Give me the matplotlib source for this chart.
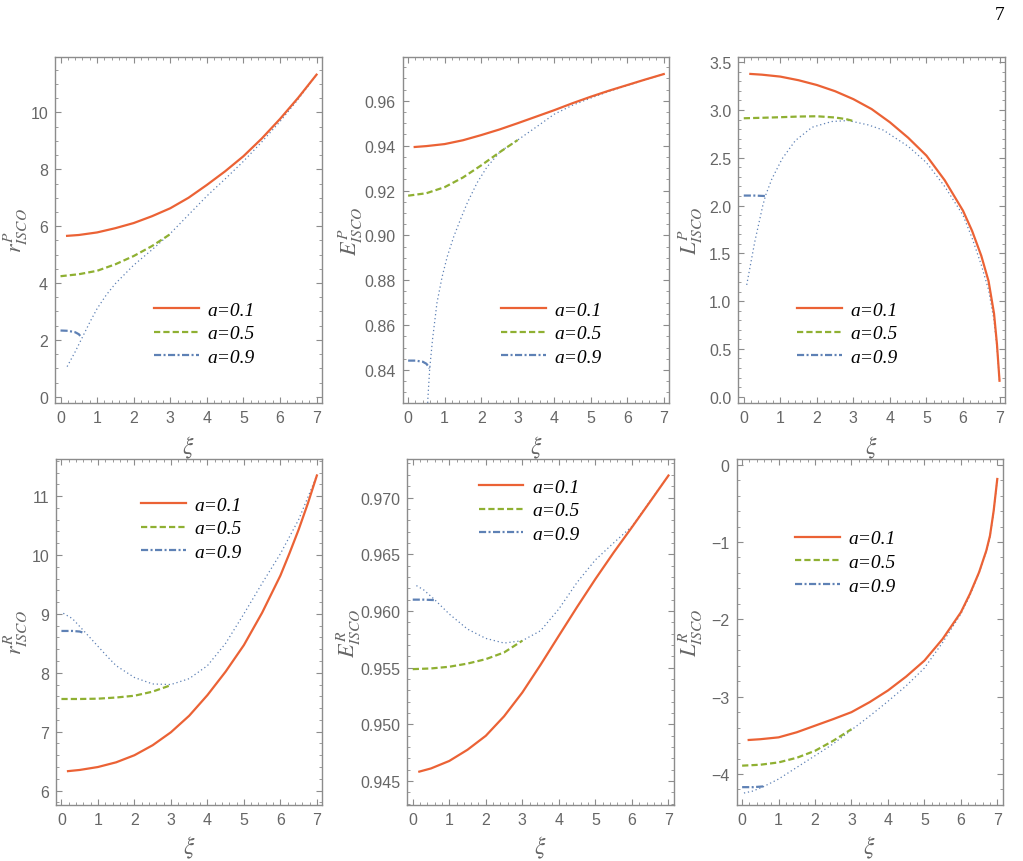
import matplotlib
matplotlib.use('Agg')
import matplotlib.pyplot as plt
from matplotlib.ticker import MultipleLocator, FormatStrFormatter

plt.rcParams['mathtext.fontset'] = 'stix'

# ---- data: xi values and curves for a=0.1, 0.5, 0.9 (+ thin dotted envelope)
# r^P_ISCO
rP_x1 = [0.18, 0.5, 1, 1.5, 2, 2.5, 3, 3.5, 4, 4.5, 5, 5.5, 6, 6.5, 7]
rP_y1 = [5.66, 5.69, 5.78, 5.93, 6.11, 6.35, 6.63, 7.00, 7.45, 7.93, 8.46, 9.08, 9.77, 10.52, 11.33]
rP_x5 = [0, 0.5, 1, 1.5, 2, 2.5, 3]
rP_y5 = [4.24, 4.31, 4.43, 4.66, 4.95, 5.30, 5.72]
rP_x9 = [0, 0.2, 0.4, 0.5, 0.58]
rP_y9 = [2.33, 2.32, 2.27, 2.20, 2.08]
rP_xd = [0.18, 0.4, 0.6, 0.8, 1, 1.25, 1.5, 2, 2.5, 3, 3.5, 4, 4.5, 5, 5.5, 6, 6.5, 7]
rP_yd = [1.06, 1.58, 2.10, 2.62, 3.10, 3.58, 3.98, 4.63, 5.17, 5.74, 6.40, 7.06, 7.66, 8.28, 8.96,
         9.68, 10.47, 11.33]

# E^P_ISCO
EP_x1 = [0.18, 0.5, 1, 1.5, 2, 2.5, 3, 3.5, 4, 4.5, 5, 5.5, 6, 6.5, 7]
EP_y1 = [0.9394, 0.9398, 0.9407, 0.9424, 0.9447, 0.9472, 0.9500, 0.9529, 0.9558, 0.9589,
         0.9618, 0.9645, 0.9670, 0.9695, 0.9719]
EP_x5 = [0, 0.5, 1, 1.5, 2, 2.5, 3]
EP_y5 = [0.9177, 0.9188, 0.9215, 0.9258, 0.9312, 0.9370, 0.9425]
EP_x9 = [0, 0.2, 0.4, 0.5, 0.59]
EP_y9 = [0.8442, 0.8442, 0.8437, 0.8428, 0.8408]
EP_xd = [0.52, 0.54, 0.59, 0.67, 0.79, 0.93, 1.07, 1.25, 1.43, 1.62, 1.89, 2.16, 2.53, 3.0,
         3.5, 4, 4.5, 5, 5.5, 6, 6.5, 7]
EP_yd = [0.820, 0.8271, 0.8405, 0.8539, 0.8700, 0.8815, 0.8905, 0.8995, 0.9070, 0.9145, 0.9235,
         0.9305, 0.9375, 0.9425, 0.9482, 0.9540, 0.9580, 0.9612, 0.9642, 0.9668, 0.9694, 0.9719]

# L^P_ISCO
LP_x1 = [0.18, 0.5, 1, 1.5, 2, 2.5, 3, 3.5, 4, 4.5, 5, 5.5, 6, 6.25, 6.5, 6.7, 6.85, 6.93, 7]
LP_y1 = [3.378, 3.370, 3.350, 3.312, 3.262, 3.197, 3.114, 3.010, 2.872, 2.710, 2.523, 2.265,
         1.947, 1.735, 1.476, 1.21, 0.87, 0.55, 0.167]
LP_x5 = [0, 0.5, 1, 1.5, 2, 2.5, 2.8, 3.0]
LP_y5 = [2.914, 2.919, 2.925, 2.932, 2.935, 2.922, 2.905, 2.885]
LP_x9 = [0, 0.3, 0.6]
LP_y9 = [2.105, 2.105, 2.100]
LP_xd = [0.08, 0.3, 0.52, 0.6, 0.77, 1.05, 1.41, 1.87, 2.41, 2.86, 3.41, 3.82, 4.5, 5, 5.5,
         6, 6.25, 6.5, 6.7, 6.85, 6.93, 7]
LP_yd = [1.17, 1.62, 2.00, 2.11, 2.28, 2.49, 2.68, 2.82, 2.88, 2.89, 2.844, 2.79, 2.62, 2.45,
         2.20, 1.90, 1.66, 1.38, 1.12, 0.80, 0.52, 0.167]

# r^R_ISCO
rR_x1 = [0.18, 0.5, 1, 1.5, 2, 2.5, 3, 3.5, 4, 4.5, 5, 5.5, 6, 6.25, 6.5, 6.75, 7]
rR_y1 = [6.33, 6.35, 6.40, 6.48, 6.60, 6.77, 6.99, 7.27, 7.62, 8.02, 8.47, 9.02, 9.65, 10.03,
         10.43, 10.87, 11.35]
rR_x5 = [0, 0.5, 1, 1.5, 2, 2.5, 3]
rR_y5 = [7.555, 7.555, 7.56, 7.58, 7.61, 7.68, 7.79]
rR_x9 = [0, 0.3, 0.5, 0.6]
rR_y9 = [8.71, 8.71, 8.70, 8.68]
rR_xd = [0.05, 0.3, 0.6, 1, 1.25, 1.5, 2, 2.5, 3, 3.5, 4, 4.5, 5, 5.5, 6, 6.5, 7]
rR_yd = [9.01, 8.92, 8.72, 8.45, 8.28, 8.12, 7.92, 7.81, 7.80, 7.90, 8.12, 8.50, 9.00, 9.52,
         10.02, 10.60, 11.35]

# E^R_ISCO
ER_x1 = [0.18, 0.5, 1, 1.5, 2, 2.5, 3, 3.5, 4, 4.5, 5, 5.5, 6, 6.5, 7]
ER_y1 = [0.94582, 0.94610, 0.94676, 0.94775, 0.94898, 0.95070, 0.95280, 0.95525, 0.95781,
         0.96035, 0.96281, 0.96515, 0.96738, 0.96965, 0.97194]
ER_x5 = [0, 0.5, 1, 1.5, 2, 2.5, 3]
ER_y5 = [0.95486, 0.95492, 0.95507, 0.95535, 0.95574, 0.95633, 0.95737]
ER_x9 = [0, 0.3, 0.6]
ER_y9 = [0.96099, 0.96099, 0.96095]
ER_xd = [0.1, 0.3, 0.6, 1, 1.5, 2, 2.5, 3, 3.5, 4, 4.5, 5, 5.5, 6, 6.5, 7]
ER_yd = [0.96223, 0.96185, 0.96099, 0.95972, 0.95839, 0.95757, 0.95716, 0.95737, 0.95825,
         0.96017, 0.96252, 0.96450, 0.96600, 0.96745, 0.96970, 0.97194]

# L^R_ISCO
LR_x1 = [0.18, 0.5, 1, 1.5, 2, 2.5, 3, 3.5, 4, 4.5, 5, 5.5, 6, 6.25, 6.5, 6.7, 6.8, 6.9, 7]
LR_y1 = [-3.56, -3.55, -3.526, -3.46, -3.375, -3.29, -3.20, -3.07, -2.92, -2.74, -2.534,
         -2.254, -1.91, -1.67, -1.392, -1.11, -0.918, -0.60, -0.185]
LR_x5 = [0, 0.5, 1, 1.5, 2, 2.5, 3]
LR_y5 = [-3.892, -3.88, -3.85, -3.79, -3.70, -3.57, -3.42]
LR_x9 = [0, 0.3, 0.6]
LR_y9 = [-4.17, -4.17, -4.16]
LR_xd = [0.05, 0.3, 0.6, 1, 1.5, 2, 2.5, 3, 3.5, 4, 4.5, 5, 5.5, 6, 6.25, 6.5, 6.7, 6.8, 6.9, 7]
LR_yd = [-4.246, -4.22, -4.16, -4.065, -3.914, -3.763, -3.61, -3.43, -3.25, -3.06, -2.86,
         -2.63, -2.30, -1.93, -1.69, -1.40, -1.12, -0.93, -0.61, -0.185]

labels = ['a=0.1', 'a=0.5', 'a=0.9']
red, green, blue = '#EB6235', '#8FB032', '#5E81B5'
gray = '#8c8c8c'
txtgray = '#666666'

fig = plt.figure(figsize=(10.23, 8.62), dpi=100)

panels = [
    dict(rect=[0.0538, 0.5313, 0.2610, 0.4014], ylabel=r'$r^{P}_{ISCO}$', ylim=(-0.22, 11.95),
         major=2, minor=0.5, fmt='%g', data=(rP_x1, rP_y1, rP_x5, rP_y5, rP_x9, rP_y9, rP_xd, rP_yd),
         leg=(0.37, 0.295), ylx=-0.095, xly=-0.09),
    dict(rect=[0.3936, 0.5313, 0.2606, 0.4014], ylabel=r'$E^{P}_{ISCO}$', ylim=(0.8253, 0.9795),
         major=0.02, minor=0.005, fmt='%.2f', data=(EP_x1, EP_y1, EP_x5, EP_y5, EP_x9, EP_y9, EP_xd, EP_yd),
         leg=(0.37, 0.295), ylx=-0.14, xly=-0.09),
    dict(rect=[0.7217, 0.5313, 0.2607, 0.4014], ylabel=r'$L^{P}_{ISCO}$', ylim=(-0.066, 3.555),
         major=0.5, minor=0.1, fmt='%.1f', data=(LP_x1, LP_y1, LP_x5, LP_y5, LP_x9, LP_y9, LP_xd, LP_yd),
         leg=(0.22, 0.295), ylx=-0.125, xly=-0.09),
    dict(rect=[0.0547, 0.0653, 0.2604, 0.4011], ylabel=r'$r^{R}_{ISCO}$', ylim=(5.76, 11.63),
         major=1, minor=0.2, fmt='%g', data=(rR_x1, rR_y1, rR_x5, rR_y5, rR_x9, rR_y9, rR_xd, rR_yd),
         leg=(0.32, 0.893), ylx=-0.098, xly=-0.085),
    dict(rect=[0.3981, 0.0653, 0.2607, 0.4011], ylabel=r'$E^{R}_{ISCO}$', ylim=(0.9429, 0.9734),
         major=0.005, minor=0.001, fmt='%.3f', data=(ER_x1, ER_y1, ER_x5, ER_y5, ER_x9, ER_y9, ER_xd, ER_yd),
         leg=(0.268, 0.945), ylx=-0.165, xly=-0.085),
    dict(rect=[0.7201, 0.0653, 0.2601, 0.4011], ylabel=r'$L^{R}_{ISCO}$', ylim=(-4.397, 0.074),
         major=1, minor=0.2, fmt='%g', data=(LR_x1, LR_y1, LR_x5, LR_y5, LR_x9, LR_y9, LR_xd, LR_yd),
         leg=(0.22, 0.795), ylx=-0.119, xly=-0.085),
]

for p in panels:
    ax = fig.add_axes(p['rect'])
    x1, y1, x5, y5, x9, y9, xd, yd = p['data']
    ax.plot(xd, yd, color=blue, lw=0.9, linestyle=(0, (1, 2.2)), label='_nolegend_')
    ax.plot(x1, y1, color=red, lw=1.6, label=labels[0])
    ax.plot(x5, y5, color=green, lw=1.6, linestyle=(0, (2.8, 1.4)), label=labels[1])
    ax.plot(x9, y9, color=blue, lw=1.6, linestyle=(0, (3.2, 1.1, 0.9, 1.1)), label=labels[2])

    ax.set_xlim(-0.15, 7.15)
    ax.set_ylim(*p['ylim'])
    ax.xaxis.set_major_locator(MultipleLocator(1))
    ax.xaxis.set_minor_locator(MultipleLocator(0.2))
    ax.yaxis.set_major_locator(MultipleLocator(p['major']))
    ax.yaxis.set_minor_locator(MultipleLocator(p['minor']))
    ax.yaxis.set_major_formatter(FormatStrFormatter(p['fmt']))
    if p['fmt'] == '%g':
        ax.yaxis.set_major_formatter(plt.FuncFormatter(lambda v, pos: ('%g' % v).replace('-', '\u2212')))

    ax.tick_params(which='both', direction='in', top=True, right=True, color=gray,
                   labelcolor=txtgray, labelsize=11.5)
    ax.tick_params(which='major', length=4, width=0.8, pad=5)
    ax.tick_params(which='minor', length=2, width=0.6)
    for lab in ax.get_xticklabels() + ax.get_yticklabels():
        lab.set_family('Liberation Sans')
    for s in ax.spines.values():
        s.set_color(gray)
        s.set_linewidth(1.0)

    ax.set_ylabel(p['ylabel'], fontsize=16, color=txtgray)
    ax.yaxis.set_label_coords(p['ylx'], 0.5)
    ax.set_xlabel(r'$\xi$', fontsize=17, color=txtgray)
    ax.xaxis.set_label_coords(0.5, p['xly'])

    ax.legend(loc='upper left', bbox_to_anchor=p['leg'], frameon=False, borderpad=0,
              borderaxespad=0, handlelength=2.3, handletextpad=0.45, labelspacing=0.32,
              prop=dict(family='Liberation Serif', style='italic', size=14))

fig.text(0.977, 0.982, '7', family='Liberation Serif', fontsize=14, ha='center', va='center')

fig.savefig('out.png', dpi=100)
